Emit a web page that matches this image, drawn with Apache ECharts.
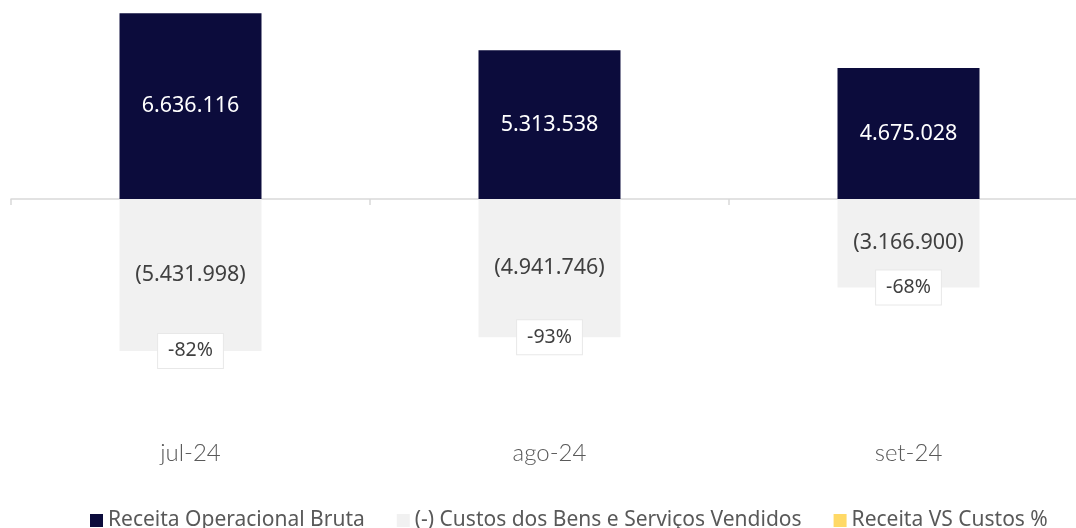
<!DOCTYPE html>
<html>
<head>
<meta charset="utf-8">
<script src="https://cdn.jsdelivr.net/npm/echarts@6/dist/echarts.min.js"></script>
<style>
  html, body { margin: 0; padding: 0; background: #fff; }
  #chart { width: 1076px; height: 528px; }
</style>
</head>
<body>
<div id="chart"></div>
<script>
const months = ['jul-24', 'ago-24', 'set-24']
const receita = [6636116, 5313538, 4675028]
const custos = [-5431998, -4941746, -3166900]
const percentual = ['-82%', '-93%', '-68%']

const fmt = v => {
  const s = Math.abs(v).toString().replace(/\B(?=(\d{3})+(?!\d))/g, '.')
  return v < 0 ? '(' + s + ')' : s
}

const chart = echarts.init(document.getElementById('chart'))
chart.setOption({
  animation: false,
  textStyle: { fontFamily: 'Noto Sans' },
  grid: { left: 11, right: -12, top: 3, bottom: 94, outerBoundsMode: 'none', containLabel: false },
  legend: {
    left: 85,
    top: 505,
    icon: 'rect',
    itemWidth: 13,
    itemHeight: 13,
    itemGap: 32,
    textStyle: { color: '#595959', fontSize: 21, fontFamily: 'Noto Sans' },
    data: [
      { name: 'Receita Operacional Bruta', itemStyle: { color: '#0c0c3c' } },
      { name: '(-) Custos dos Bens e Serviços Vendidos', itemStyle: { color: '#f1f1f1' } },
      { name: 'Receita VS Custos %', itemStyle: { color: '#ffd966' } }
    ]
  },
  xAxis: [
    {
      type: 'category',
      data: months,
      axisLine: { onZero: true, lineStyle: { color: '#d9d9d9', width: 1.5 } },
      axisTick: { show: true, length: 6, lineStyle: { color: '#d9d9d9', width: 1.5 } },
      axisLabel: { show: false }
    },
    {
      type: 'category',
      data: months,
      position: 'bottom',
      axisLine: { show: false },
      axisTick: { show: false },
      axisLabel: { color: '#595959', fontSize: 24, fontFamily: 'Lato', fontWeight: 300, margin: 7 }
    }
  ],
  yAxis: {
    type: 'value',
    min: -8400000,
    max: 7000000,
    show: false,
    splitLine: { show: false }
  },
  series: [
    {
      name: 'Receita Operacional Bruta',
      type: 'bar',
      stack: 'total',
      barWidth: 142,
      data: receita,
      itemStyle: { color: '#0c0c3c' },
      label: {
        show: true,
        position: 'inside',
        color: '#ffffff',
        fontSize: 21.5,
        formatter: p => fmt(p.value)
      }
    },
    {
      name: '(-) Custos dos Bens e Serviços Vendidos',
      type: 'bar',
      stack: 'total',
      barWidth: 142,
      data: custos,
      itemStyle: { color: '#f1f1f1' },
      label: {
        show: true,
        position: 'inside',
        color: '#404040',
        fontSize: 21.5,
        formatter: p => fmt(p.value)
      }
    },
    {
      name: 'Receita VS Custos %',
      type: 'line',
      data: custos,
      symbol: 'circle',
      symbolSize: 1,
      itemStyle: { color: 'rgba(0,0,0,0)' },
      lineStyle: { opacity: 0 },
      label: {
        show: true,
        position: 'inside',
        color: '#404040',
        fontSize: 19.5,
        backgroundColor: '#ffffff',
        borderColor: '#e8e8e8',
        borderWidth: 1,
        padding: [7, 10],
        formatter: p => percentual[p.dataIndex]
      }
    }
  ]
})
</script>
</body>
</html>
